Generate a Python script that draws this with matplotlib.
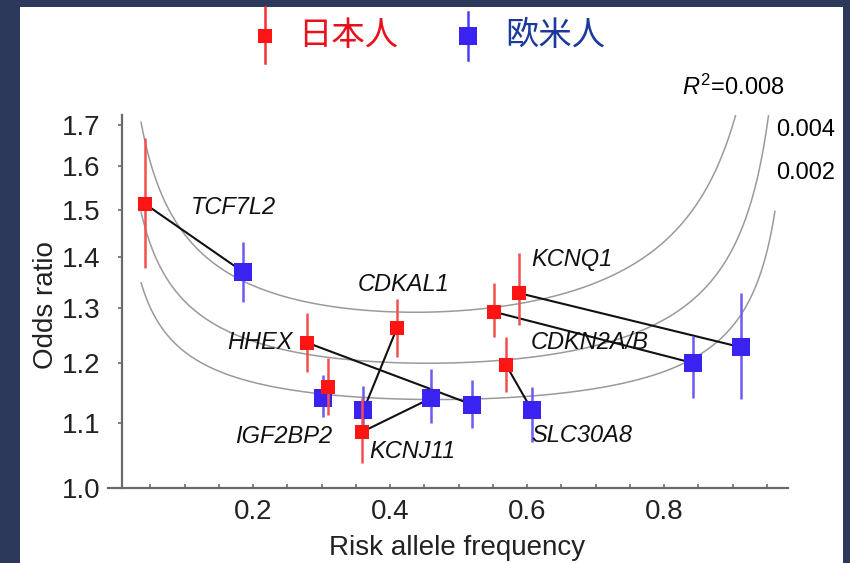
import numpy as np
import matplotlib
matplotlib.use("Agg")
import matplotlib.pyplot as plt
from matplotlib.lines import Line2D
from matplotlib.patches import Rectangle
from matplotlib.ticker import FixedLocator, FixedFormatter, NullLocator

plt.rcParams['font.family'] = ['Liberation Sans', 'DejaVu Sans']
plt.rcParams['mathtext.fontset'] = 'custom'
plt.rcParams['mathtext.rm'] = 'Liberation Sans'
plt.rcParams['mathtext.it'] = 'Liberation Sans:italic'

# genes, in the order used for every array below
genes = ['TCF7L2', 'HHEX', 'IGF2BP2', 'CDKAL1', 'KCNJ11', 'CDKN2A/B', 'KCNQ1', 'SLC30A8']

# Japanese (red)
jp_freq = [0.042, 0.279, 0.309, 0.410, 0.359, 0.552, 0.588, 0.569]
jp_or = [1.514, 1.236, 1.159, 1.263, 1.085, 1.293, 1.329, 1.197]
jp_lo = [1.379, 1.184, 1.112, 1.211, 1.037, 1.247, 1.268, 1.150]
jp_hi = [1.667, 1.291, 1.209, 1.318, 1.140, 1.349, 1.409, 1.247]

# European (blue)
eu_freq = [0.185, 0.520, 0.302, 0.361, 0.460, 0.842, 0.912, 0.607]
eu_or = [1.371, 1.129, 1.140, 1.120, 1.140, 1.200, 1.228, 1.120]
eu_lo = [1.312, 1.091, 1.109, 1.092, 1.099, 1.140, 1.138, 1.069]
eu_hi = [1.432, 1.171, 1.179, 1.160, 1.189, 1.248, 1.329, 1.159]

# where the gene names sit (data coords)
label_x = [0.171, 0.210, 0.244, 0.419, 0.432, 0.692, 0.666, 0.680]
label_y = [1.505, 1.236, 1.077, 1.345, 1.054, 1.237, 1.395, 1.079]

r2_levels = [0.002, 0.004, 0.008]
y_ticks = [1.0, 1.1, 1.2, 1.3, 1.4, 1.5, 1.6, 1.7]
x_ticks = [0.2, 0.4, 0.6, 0.8]

RED = '#ff1414'
BLUE = '#3a22f0'

fig = plt.figure(figsize=(8.5, 5.63), dpi=100)
fig.patch.set_facecolor('#2c395b')
fig.add_artist(Rectangle((20 / 850, 0), 823 / 850, 1 - 7 / 563,
                         transform=fig.transFigure, facecolor='white',
                         edgecolor='none', zorder=0))

ax = fig.add_axes([0.1271, 0.1337, 0.8, 0.662])
ax.set_facecolor('none')
ax.set_yscale('log')
ax.set_xlim(-0.012, 0.981)
ax.set_ylim(1.0, 1.724)

# iso-R^2 curves (variance explained by one SNP)
p = np.linspace(0.036, 0.962, 500)
o = np.linspace(1.0, 2.0, 900)
P, O = np.meshgrid(p, o)
cv2 = ((1 - P + P * O ** 2) / (1 - P + P * O) ** 2) ** 2 - 1
R2 = 0.24 * cv2
ax.contour(P, O, R2, levels=r2_levels, colors='#9a9a9a', linewidths=1.1, zorder=1)

# links between the two populations
for i in range(len(genes)):
    ax.plot([jp_freq[i], eu_freq[i]], [jp_or[i], eu_or[i]], color='#111111',
            lw=1.5, zorder=2)

eu_or_a = np.array(eu_or)
ax.errorbar(eu_freq, eu_or, yerr=[eu_or_a - np.array(eu_lo), np.array(eu_hi) - eu_or_a],
            fmt='s', color=BLUE, ecolor='#6a5cf0', elinewidth=1.8, capsize=0,
            markersize=13.5, markeredgewidth=0, zorder=3)
jp_or_a = np.array(jp_or)
ax.errorbar(jp_freq, jp_or, yerr=[jp_or_a - np.array(jp_lo), np.array(jp_hi) - jp_or_a],
            fmt='s', color=RED, ecolor='#f25050', elinewidth=1.8, capsize=0,
            markersize=10, markeredgewidth=0, zorder=4)

for g, lx, ly in zip(genes, label_x, label_y):
    ax.text(lx, ly, g, fontsize=17, style='italic', ha='center', va='center',
            color='#111111', zorder=5)

# curve labels
ax.text(0.9007, 1.794, r'$R^{2}$=0.008', fontsize=17, ha='center', va='center')
ax.text(1.007, 1.687, '0.004', fontsize=17, ha='center', va='center')
ax.text(1.007, 1.584, '0.002', fontsize=17, ha='center', va='center')

# axes styling
for s in ['top', 'right']:
    ax.spines[s].set_visible(False)
ax.spines['left'].set_position(('data', 0.009))
for s in ['left', 'bottom']:
    ax.spines[s].set_color('#6a6a6a')
    ax.spines[s].set_linewidth(1.6)

ax.yaxis.set_major_locator(FixedLocator(y_ticks))
ax.yaxis.set_major_formatter(FixedFormatter([f'{v:.1f}' for v in y_ticks]))
ax.yaxis.set_minor_locator(NullLocator())
ax.xaxis.set_major_locator(FixedLocator(x_ticks))
ax.xaxis.set_minor_locator(FixedLocator(np.arange(0.05, 0.96, 0.05)))
ax.tick_params(axis='y', direction='out', length=3, width=1.2, color='#6a6a6a',
               pad=13, labelsize=20, labelcolor='#222222')
ax.tick_params(axis='x', which='both', direction='in', length=3, width=1.2,
               color='#6a6a6a', pad=8, labelsize=20, labelcolor='#222222')

ax.set_ylabel('Odds ratio', fontsize=20, color='#222222')
ax.yaxis.set_label_coords(-0.072, 0.49)
ax.set_xlabel('Risk allele frequency', fontsize=20, color='#222222')
ax.xaxis.set_label_coords(0.513, -0.128)

# legend at the top
cjk = ['Noto Sans CJK JP', 'DejaVu Sans']
fig.add_artist(Line2D([265 / 850, 265 / 850], [1 - 7 / 563, 1 - 63 / 563],
                      transform=fig.transFigure, color='#f23030', lw=1.8))
fig.add_artist(Line2D([265 / 850], [1 - 36 / 563], transform=fig.transFigure,
                      marker='s', markersize=10, color=RED, markeredgewidth=0))
fig.text(298 / 850, 1 - 36 / 563, '日本人', family=cjk, fontsize=24,
         color='#e8101a', va='center', ha='left')
fig.add_artist(Line2D([468 / 850, 468 / 850], [1 - 12 / 563, 1 - 60 / 563],
                      transform=fig.transFigure, color='#4a3cf0', lw=1.8))
fig.add_artist(Line2D([468 / 850], [1 - 36 / 563], transform=fig.transFigure,
                      marker='s', markersize=13.5, color=BLUE, markeredgewidth=0))
fig.text(505 / 850, 1 - 36 / 563, '欧米人', family=cjk, fontsize=24,
         color='#1c3a9c', va='center', ha='left')

fig.savefig('out.png', dpi=100, facecolor=fig.get_facecolor())
